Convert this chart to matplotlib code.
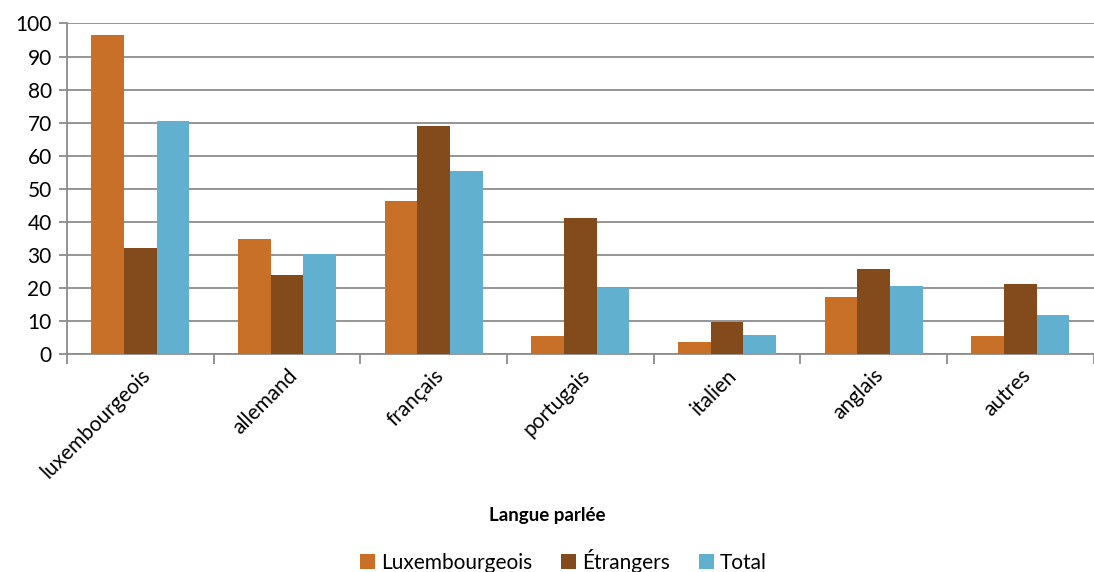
import numpy as np
import matplotlib.pyplot as plt

langues = ['luxembourgeois', 'allemand', 'français', 'portugais', 'italien', 'anglais', 'autres']
luxembourgeois = [96.5, 34.9, 46.4, 5.4, 3.5, 17.4, 5.4]
etrangers = [32.0, 23.8, 69.1, 41.1, 9.7, 25.8, 21.3]
total = [70.4, 30.3, 55.5, 19.9, 5.9, 20.7, 11.8]

plt.rcParams['font.family'] = ['Lato', 'DejaVu Sans']

fig = plt.figure(figsize=(10.94, 5.72), dpi=100)
ax = fig.add_axes([0.0612, 0.381, 0.9385, 0.578])

x = np.arange(len(langues))
w = 0.223
ax.bar(x - w, luxembourgeois, w, color='#C87027', label='Luxembourgeois', zorder=3)
ax.bar(x, etrangers, w, color='#834B1B', label='Étrangers', zorder=3)
ax.bar(x + w, total, w, color='#61B0CF', label='Total', zorder=3)

ax.set_xlim(-0.5, len(langues) - 0.5)
ax.set_ylim(0, 100)
ax.set_yticks(range(0, 101, 10))
ax.yaxis.grid(True, color='#8c8c8c', linewidth=1.3, zorder=0)
for s in ['top', 'right']:
    ax.spines[s].set_visible(False)
ax.spines['left'].set_color('#8c8c8c')
ax.spines['bottom'].set_color('#8c8c8c')
ax.spines['left'].set_linewidth(1.3)
ax.spines['bottom'].set_linewidth(1.3)

ax.set_xticks(np.arange(-0.5, len(langues), 1))
ax.set_xticklabels([])
ax.set_xticks(x, minor=True)
ax.set_xticklabels(langues, minor=True, rotation=45, ha='right', rotation_mode='anchor', fontsize=15)
ax.tick_params(axis='x', which='minor', length=0, pad=8)
ax.tick_params(axis='x', which='major', length=7, color='#8c8c8c', width=1.3)
ax.tick_params(axis='y', length=6, color='#8c8c8c', width=1.3, labelsize=15, pad=5)

fig.text(0.5, 0.099, 'Langue parlée', ha='center', va='center', fontsize=13.5, fontweight='bold')
fig.legend(loc='center', bbox_to_anchor=(0.515, 0.02), ncol=3, frameon=False, fontsize=15,
           handlelength=0.7, handleheight=0.7, handletextpad=0.3, columnspacing=1.4)

plt.savefig('out.png', dpi=100)
